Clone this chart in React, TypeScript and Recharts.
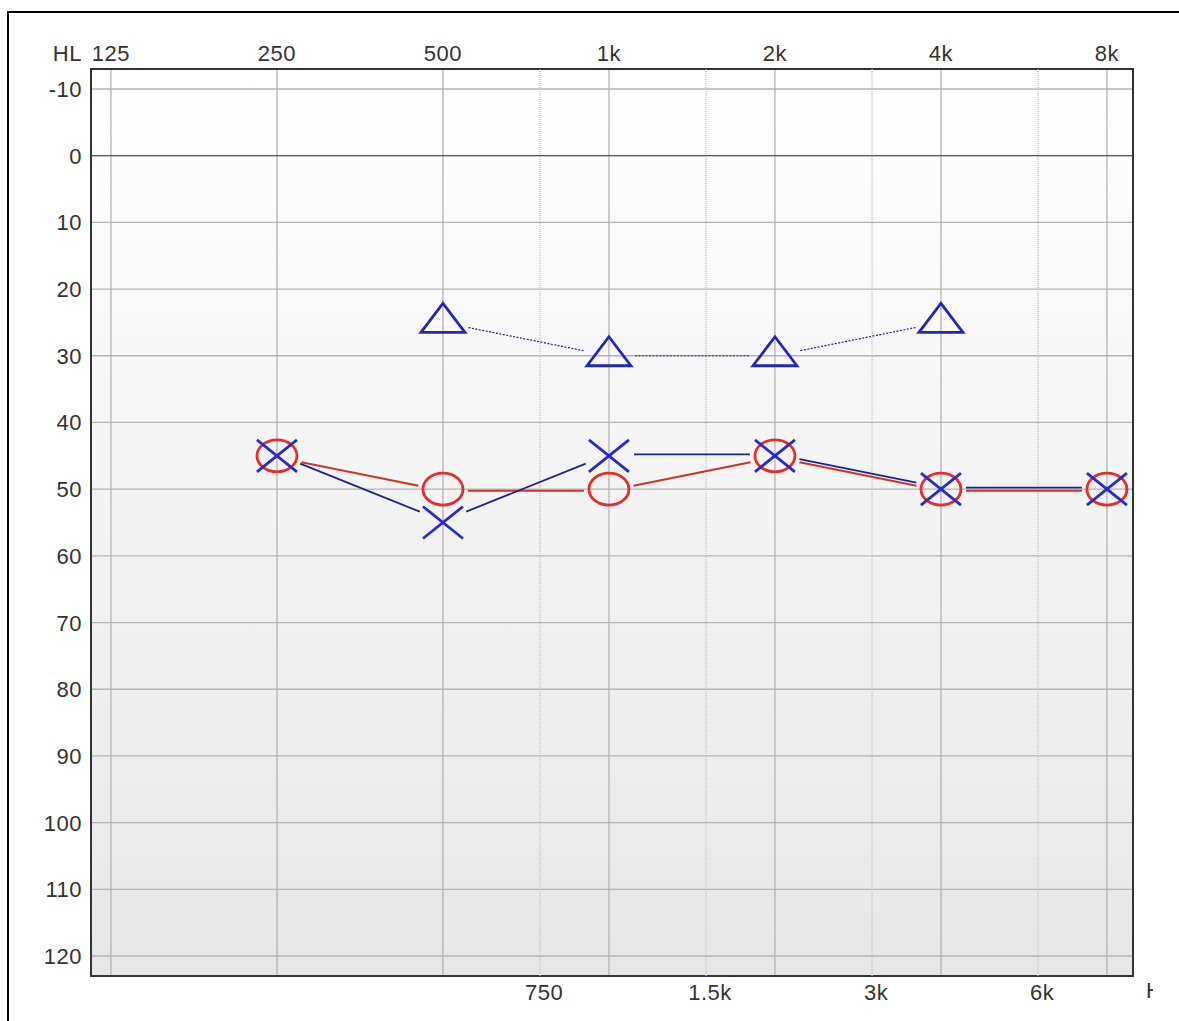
import React from "react";
import {
  ScatterChart,
  Scatter,
  XAxis,
  YAxis,
  CartesianGrid,
  ReferenceLine,
  ReferenceArea,
} from "recharts";

// frequency axis (Hz)
const octaveFreqs = [125, 250, 500, 1000, 2000, 4000, 8000];
const octaveLabels = ["125", "250", "500", "1k", "2k", "4k", "8k"];
const halfOctaveFreqs = [750, 1500, 3000, 6000];
const halfOctaveLabels = ["750", "1.5k", "3k", "6k"];

// hearing level axis (dB HL)
const levelTicks = [-10, 0, 10, 20, 30, 40, 50, 60, 70, 80, 90, 100, 110, 120];

// right ear air conduction (red O)
const rightFreqs = [250, 500, 1000, 2000, 4000, 8000];
const rightLevels = [45, 50, 50, 45, 50, 50];

// left ear air conduction (blue X)
const leftFreqs = [250, 500, 1000, 2000, 4000, 8000];
const leftLevels = [45, 55, 45, 45, 50, 50];

// bone conduction (blue triangle)
const boneFreqs = [500, 1000, 2000, 4000];
const boneLevels = [25, 30, 30, 25];

const xDomain = [115, 8920];
const yDomain = [-13, 123];

const toPoints = (freqs: number[], levels: number[]) =>
  freqs.map((f, i) => ({ freq: f, level: levels[i] }));

const rightData = toPoints(rightFreqs, rightLevels);
const leftData = toPoints(leftFreqs, leftLevels);
const boneData = toPoints(boneFreqs, boneLevels);

const labelFor = (v: number, freqs: number[], labels: string[]) => {
  const i = freqs.indexOf(v);
  return i >= 0 ? labels[i] : String(v);
};

const FONT = "'Liberation Sans', Arial, sans-serif";
const TEXT = "#333333";

const TopTick = (props: any) => {
  const { x, y, payload } = props;
  return (
    <g>
      {payload.value === octaveFreqs[0] && (
        <text x={x - 29} y={y} textAnchor="end" fontFamily={FONT} fontSize={22} fill={TEXT} letterSpacing={0.5}>
          HL
        </text>
      )}
      <text x={x} y={y} textAnchor="middle" fontFamily={FONT} fontSize={22} fill={TEXT} letterSpacing={0.5}>
        {labelFor(payload.value, octaveFreqs, octaveLabels)}
      </text>
    </g>
  );
};

const BottomTick = (props: any) => {
  const { x, y, payload } = props;
  return (
    <text x={x + 4} y={y} dy={16} textAnchor="middle" fontFamily={FONT} fontSize={22} fill={TEXT} letterSpacing={0.5}>
      {labelFor(payload.value, halfOctaveFreqs, halfOctaveLabels)}
    </text>
  );
};

const LeftTick = (props: any) => {
  const { x, y, payload } = props;
  return (
    <text x={x} y={y} dy={8} textAnchor="end" fontFamily={FONT} fontSize={22} fill={TEXT} letterSpacing={0.5}>
      {payload.value}
    </text>
  );
};

// connecting segments that stop short of the symbols
const gapLine =
  (gap: number, offset: number, color: string, width: number, dash?: string) =>
  (props: any) => {
    const pts = props.points || [];
    const segs: React.ReactNode[] = [];
    for (let i = 0; i < pts.length - 1; i++) {
      const a = pts[i];
      const b = pts[i + 1];
      const dx = b.x - a.x;
      const dy = b.y - a.y;
      const len = Math.hypot(dx, dy) || 1;
      const ux = dx / len;
      const uy = dy / len;
      segs.push(
        <line
          key={i}
          x1={a.x + ux * gap}
          y1={a.y + uy * gap + offset}
          x2={b.x - ux * gap}
          y2={b.y - uy * gap + offset}
          stroke={color}
          strokeWidth={width}
          strokeDasharray={dash}
        />
      );
    }
    return <g>{segs}</g>;
  };

const Circle = (props: any) => {
  const { cx, cy } = props;
  return <ellipse cx={cx} cy={cy} rx={20} ry={16} fill="none" stroke="#e0302c" strokeWidth={2.8} />;
};

const Cross = (props: any) => {
  const { cx, cy } = props;
  return (
    <g stroke="#2a2ac4" strokeWidth={2.8}>
      <line x1={cx - 20} y1={cy - 16} x2={cx + 20} y2={cy + 16} />
      <line x1={cx - 20} y1={cy + 16} x2={cx + 20} y2={cy - 16} />
    </g>
  );
};

const Triangle = (props: any) => {
  const { cx, cy } = props;
  const pts = `${cx},${cy - 19} ${cx + 22},${cy + 10} ${cx - 22},${cy + 10}`;
  return <polygon points={pts} fill="none" stroke="#2626b4" strokeWidth={2.8} strokeLinejoin="miter" />;
};

const App = () => {
  return (
    <div
      style={{
        position: "absolute",
        left: 0,
        top: 0,
        width: 1179,
        height: 1021,
        overflow: "hidden",
        background: "#ffffff",
      }}
    >
      <div
        style={{
          position: "absolute",
          left: 7,
          top: 11,
          width: 1300,
          height: 1200,
          border: "2px solid #000",
        }}
      />
      <div style={{ position: "absolute", left: 0, top: 0 }}>
        <ScatterChart width={1179} height={1021} margin={{ top: 29, right: 46, bottom: 0, left: 11 }}>
          <defs>
            <linearGradient id="plotBg" x1="0" y1="0" x2="0" y2="1">
              <stop offset="0%" stopColor="#ffffff" />
              <stop offset="100%" stopColor="#e6e6e6" />
            </linearGradient>
          </defs>
          <CartesianGrid
            xAxisId="top"
            stroke="#b4b4b4"
            strokeWidth={1.3}
            fill="url(#plotBg)"
            fillOpacity={1}
          />
          <XAxis
            xAxisId="top"
            orientation="top"
            dataKey="freq"
            type="number"
            scale="log"
            domain={xDomain}
            allowDataOverflow
            ticks={octaveFreqs}
            height={40}
            axisLine={false}
            tickLine={false}
            tickSize={6}
            tickMargin={2}
            tick={<TopTick />}
            interval={0}
          />
          <XAxis
            xAxisId="bottom"
            orientation="bottom"
            dataKey="freq"
            type="number"
            scale="log"
            domain={xDomain}
            allowDataOverflow
            ticks={halfOctaveFreqs}
            height={45}
            axisLine={false}
            tickLine={false}
            tickSize={6}
            tickMargin={2}
            tick={<BottomTick />}
            interval={0}
          />
          <YAxis
            dataKey="level"
            type="number"
            reversed
            domain={yDomain}
            allowDataOverflow
            ticks={levelTicks}
            width={80}
            axisLine={false}
            tickLine={false}
            tickSize={6}
            tickMargin={3}
            tick={<LeftTick />}
            interval={0}
          />
          {halfOctaveFreqs.map((f) => (
            <ReferenceLine key={f} xAxisId="top" x={f} stroke="#c2c2c2" strokeWidth={1.3} strokeDasharray="1 1" />
          ))}
          <ReferenceLine xAxisId="top" y={0} stroke="#555555" strokeWidth={1.3} />
          <ReferenceArea
            xAxisId="top"
            x1={xDomain[0]}
            x2={xDomain[1]}
            y1={yDomain[0]}
            y2={yDomain[1]}
            fill="none"
            stroke="#333333"
            strokeWidth={2}
            ifOverflow="visible"
          />
          <Scatter
            xAxisId="top"
            data={boneData}
            shape={<Triangle />}
            line={gapLine(26, 0, "#22228c", 1.2, "2 1.5")}
            isAnimationActive={false}
          />
          <Scatter
            xAxisId="top"
            data={rightData}
            shape={<Circle />}
            line={gapLine(25, 1.5, "#c8342e", 2)}
            isAnimationActive={false}
          />
          <Scatter
            xAxisId="top"
            data={leftData}
            shape={<Cross />}
            line={gapLine(25, -1.5, "#20208a", 1.8)}
            isAnimationActive={false}
          />
        </ScatterChart>
      </div>
      <div
        style={{
          position: "absolute",
          left: 1146,
          top: 978,
          width: 7,
          overflow: "hidden",
          whiteSpace: "nowrap",
          fontFamily: FONT,
          fontSize: 22,
          color: TEXT,
        }}
      >
        Hz
      </div>
    </div>
  );
};

export default App;
